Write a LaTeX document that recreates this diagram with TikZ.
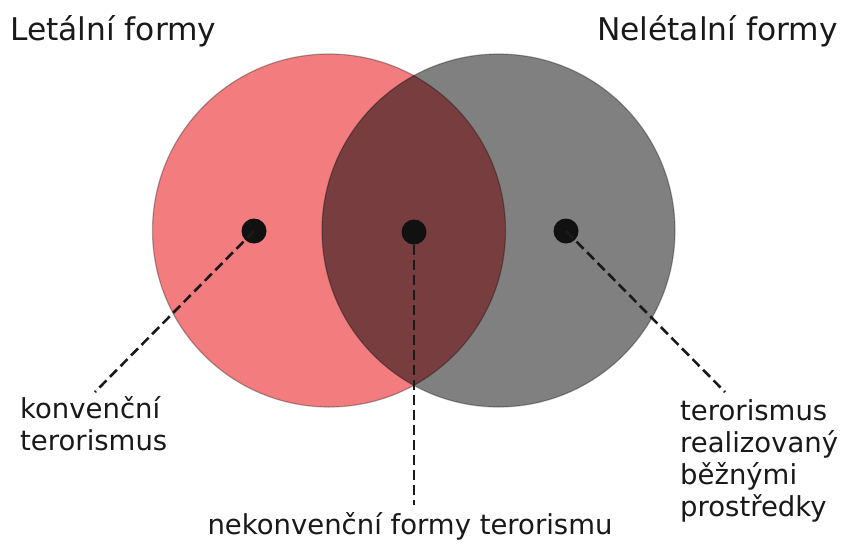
\documentclass[tikz,border=0pt]{standalone}
\usepackage{fontspec}
\setmainfont{DejaVu Sans}
\definecolor{lred}{RGB}{242,124,126}
\definecolor{rgray}{RGB}{128,128,128}
\definecolor{inter}{RGB}{119,61,63}
\definecolor{dotc}{RGB}{17,17,17}
\definecolor{linec}{RGB}{26,26,26}
\begin{document}
\begin{tikzpicture}[x=1pt,y=-1pt,
  lbl/.style={font=\fontsize{27.5}{32}\selectfont, inner sep=0pt, align=left, text=black!90},
  ttl/.style={font=\fontsize{31.3}{36}\selectfont, inner sep=0pt, text=black!90},
  disc/.style={circle, minimum size=353pt, inner sep=0pt},
  dotn/.style={circle, fill=dotc, minimum size=25pt, inner sep=0pt},
  lead/.style={draw=linec, line width=2.6pt, dash pattern=on 10pt off 5pt},
  rim/.style={draw=black, draw opacity=0.3, line width=1.2pt}]
\useasboundingbox (0,0) rectangle (845,547);
\fill[white] (0,0) rectangle (845,547);
% circles
\node[disc, fill=lred] (L) at (329,230.5) {};
\node[disc, fill=rgray] (R) at (498.5,230.5) {};
\begin{scope}
  \clip (L.center) circle (176.5pt);
  \fill[inter] (R.center) circle (176.5pt);
\end{scope}
\draw[rim] (L.center) circle (176.5pt);
\draw[rim] (R.center) circle (176.5pt);
% leader end points
\coordinate (ea) at (95,392);
\coordinate (eb) at (414,505);
\coordinate (ec) at (725,392);
% dots
\node[dotn] (da) at (254,231) {};
\node[dotn] (db) at (414,232) {};
\node[dotn] (dc) at (566,231) {};
\draw[lead] (da.center) -- (ea);
\draw[lead] (db.south) -- (eb);
\draw[lead] (dc.center) -- (ec);
% texts
\node[ttl, anchor=base west] (t1) at (10,40) {Letální formy};
\node[ttl, anchor=base east] (t2) at (838,40) {Nelétalní formy};
\node[lbl, anchor=base west] (la) at (20,450) {konvenční\\terorismus};
\node[lbl, anchor=base west] (lc) at (680,516) {terorismus\\realizovaný\\běžnými\\prostředky};
\node[lbl, anchor=base] (lb) at (410,534) {nekonvenční formy terorismu};
\end{tikzpicture}
\end{document}
